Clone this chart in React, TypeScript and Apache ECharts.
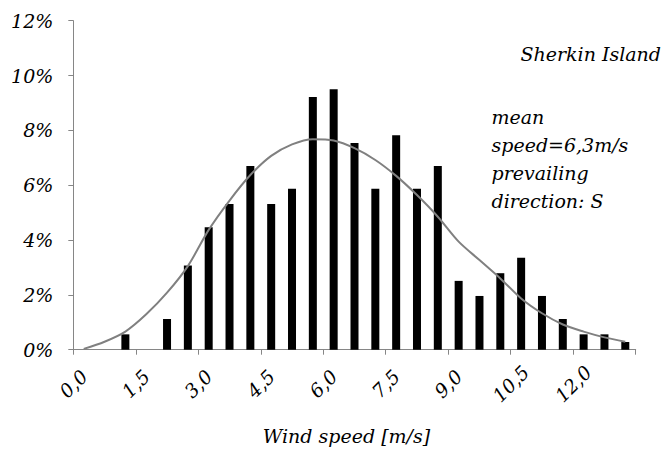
import React, { useEffect, useRef } from "react";
import * as echarts from "echarts";

// Centre of each 0.5 m/s wind-speed bin
const binCentres = [
  0.25, 0.75, 1.25, 1.75, 2.25, 2.75, 3.25, 3.75, 4.25, 4.75, 5.25, 5.75, 6.25,
  6.75, 7.25, 7.75, 8.25, 8.75, 9.25, 9.75, 10.25, 10.75, 11.25, 11.75, 12.25,
  12.75, 13.25,
];

// Observed frequency per bin [%]
const observedFreq = [
  0, 0, 0.56, 0, 1.12, 3.07, 4.47, 5.31, 6.7, 5.31, 5.87, 9.22, 9.5, 7.54,
  5.87, 7.82, 5.87, 6.7, 2.51, 1.96, 2.79, 3.35, 1.96, 1.12, 0.56, 0.56, 0.28,
];

// Fitted distribution per bin [%]
const fittedFreq = [
  0.03, 0.29, 0.66, 1.29, 2.08, 3.05, 4.37, 5.44, 6.37, 7.07, 7.49, 7.68, 7.63,
  7.35, 6.92, 6.34, 5.64, 4.85, 3.94, 3.27, 2.6, 1.87, 1.33, 0.92, 0.66, 0.45,
  0.29,
];

const xTicks = { min: 0, max: 13.5, step: 1.5 };
const yTicks = { min: 0, max: 12, step: 2 };

const siteName = "Sherkin Island";
const siteNotes = ["mean", "speed=6,3m/s", "prevailing", "direction: S"];
const xTitle = "Wind speed [m/s]";

const FONT = "DejaVu Serif";
const AXIS_GREY = "#868686";

export default function App() {
  const ref = useRef<HTMLDivElement>(null);

  useEffect(() => {
    if (!ref.current) return;
    const chart = echarts.init(ref.current, null, { renderer: "svg" });

    chart.setOption({
      animation: false,
      grid: { left: 73.3, right: 27.3, top: 20.7, bottom: 102.3 },
      xAxis: {
        type: "value",
        min: xTicks.min,
        max: xTicks.max,
        interval: xTicks.step,
        splitLine: { show: false },
        axisLine: { show: true, lineStyle: { color: AXIS_GREY, width: 1 } },
        axisTick: { show: true, length: 5, lineStyle: { color: AXIS_GREY } },
        axisLabel: {
          fontFamily: FONT,
          fontStyle: "italic",
          fontSize: 19,
          color: "#000",
          rotate: 45,
          align: "center",
          verticalAlign: "middle",
          margin: 34,
          formatter: (v: number) =>
            v >= xTicks.max ? "" : v.toFixed(1).replace(".", ","),
        },
      },
      yAxis: {
        type: "value",
        min: yTicks.min,
        max: yTicks.max,
        interval: yTicks.step,
        splitLine: { show: false },
        axisLine: { show: true, lineStyle: { color: AXIS_GREY, width: 1 } },
        axisTick: { show: true, length: 5, lineStyle: { color: AXIS_GREY } },
        axisLabel: {
          fontFamily: FONT,
          fontStyle: "italic",
          fontSize: 19,
          color: "#000",
          margin: 20,
          formatter: "{value}%",
        },
      },
      series: [
        {
          type: "bar",
          data: binCentres.map((x, i) => [x, observedFreq[i]]),
          barWidth: 8,
          itemStyle: { color: "#000" },
          z: 2,
        },
        {
          type: "line",
          data: binCentres.map((x, i) => [x, fittedFreq[i]]),
          smooth: 0.3,
          showSymbol: false,
          lineStyle: { color: "#808080", width: 2 },
          z: 3,
        },
      ],
      graphic: [
        {
          type: "text",
          x: 661,
          y: 53.5,
          style: {
            text: siteName,
            fontFamily: FONT,
            fontStyle: "italic",
            fontSize: 19,
            fill: "#000",
            align: "right",
            verticalAlign: "middle",
          },
        },
        {
          type: "text",
          x: 491.5,
          y: 103,
          style: {
            text: siteNotes.join("\n"),
            fontFamily: FONT,
            fontStyle: "italic",
            fontSize: 19,
            fill: "#000",
            lineHeight: 28,
            align: "left",
            verticalAlign: "top",
          },
        },
        {
          type: "text",
          x: 346.5,
          y: 436,
          style: {
            text: xTitle,
            fontFamily: FONT,
            fontStyle: "italic",
            fontSize: 19,
            fill: "#000",
            align: "center",
            verticalAlign: "middle",
          },
        },
      ],
    });

    return () => chart.dispose();
  }, []);

  return (
    <div
      ref={ref}
      style={{ position: "absolute", left: 0, top: 0, width: 663, height: 452 }}
    />
  );
}
